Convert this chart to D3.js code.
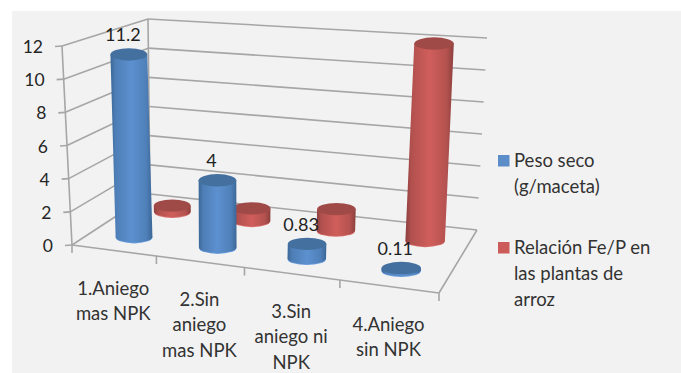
<!DOCTYPE html>
<html><head><meta charset="utf-8">
<script src="https://cdn.jsdelivr.net/npm/d3@7"></script>
<style>html,body{margin:0;padding:0;background:#fff}svg{display:block}text{font-family:Lato,"Open Sans",sans-serif}</style>
</head><body><svg id="c" width="681" height="373"></svg>
<script>
const categories = [["1.Aniego","mas NPK"],["2.Sin","aniego","mas NPK"],["3.Sin","aniego ni","NPK"],["4.Aniego","sin NPK"]];
const pesoSeco = [11.2, 4, 0.83, 0.11];
const relacionFeP = [0.35, 0.75, 1.3, 12];
const valueTicks = [0, 2, 4, 6, 8, 10, 12];
const legendNames = [["Peso seco","(g/maceta)"],["Relación Fe/P en","las plantas de","arroz"]];

const W = 681, H = 373;
const svg = d3.select("#c");
const defs = svg.append("defs");

// Box corners of the 3D plot, floor (z=0) and ceiling (z=1); front/back, left/right.
const floor = {fl:[72,245], fr:[439,293], bl:[150,194], br:[477,230]};
const ceil  = {fl:[62,46],  fr:[452,72],  bl:[148,19],  br:[487,38]};
const bil = (q,u,v,i)=>(1-v)*((1-u)*q.fl[i]+u*q.fr[i])+v*((1-u)*q.bl[i]+u*q.br[i]);
const zScale = d3.scaleLinear().domain([0,12]).range([0,1]);
const uScale = d3.scaleLinear().domain([0,1,2,3,4]).range([0,.23,.47,.73,1]);
const vRow = {blue:.27, red:.76};
function project(cat,v,val){
  const u = uScale(cat), z = zScale(val);
  return [0,1].map(i=>(1-z)*bil(floor,u,v,i)+z*bil(ceil,u,v,i));
}
const line = (a,b,col,w)=>svg.append("line").attr("x1",a[0]).attr("y1",a[1]).attr("x2",b[0]).attr("y2",b[1]).attr("stroke",col).attr("stroke-width",w||1.6);

svg.append("rect").attr("x",12).attr("y",11).attr("width",W-12).attr("height",H-11).attr("fill","#f2f2f2");

// Walls and floor outlines
const grid = "#a6a6a6";
valueTicks.forEach(t=>{
  const fl = project(0,0,t), bl = project(0,1,t), br = project(4,1,t);
  line(fl,bl,grid); line(bl,br,grid);
  line([fl[0]-7,fl[1]+0.5],fl,grid);
  svg.append("text").attr("x",fl[0]-19).attr("y",fl[1]+7).attr("text-anchor","end").attr("font-size",17.5).attr("fill","#262626").text(t);
});
line(project(0,0,0),project(0,0,12),grid);
line(project(0,1,0),project(0,1,12),grid);
line(project(0,0,0),project(4,0,0),grid);
line(project(4,0,0),project(4,1,0),grid);
d3.range(5).forEach(c=>{const p=project(c,0,0);line(p,[p[0],p[1]+8],grid);});

// Cylinder drawn as a shaded body between two ellipses plus a darker cap
function gradient(id,edge,mid){
  const g=defs.append("linearGradient").attr("id",id);
  [[0,edge],[.12,d3.interpolateRgb(edge,mid)(.55)],[.5,mid],[.85,d3.interpolateRgb(edge,mid)(.6)],[1,edge]]
    .forEach(s=>g.append("stop").attr("offset",s[0]).attr("stop-color",s[1]));
}
gradient("gBlue","#3c6797","#5c90cf");
gradient("gRed","#8b3f3d","#d05e5b");
function cylinder(cat,rowV,val,fill,cap,rim){
  const base=project(cat,rowV,0), top=project(cat,rowV,val);
  const rx=18.2+uScale(cat)*1.8, ry=6.2;
  const d=`M${top[0]-rx},${top[1]}L${base[0]-rx},${base[1]}A${rx},${ry} 0 0 0 ${base[0]+rx},${base[1]}L${top[0]+rx},${top[1]}Z`;
  svg.append("ellipse").attr("cx",base[0]).attr("cy",base[1]+0.8).attr("rx",rx).attr("ry",ry).attr("fill",rim);
  svg.append("path").attr("d",d).attr("fill",fill);
  svg.append("ellipse").attr("cx",top[0]).attr("cy",top[1]).attr("rx",rx).attr("ry",ry).attr("fill",cap);
}
categories.forEach((c,i)=>{
  cylinder(i+.53,vRow.red,relacionFeP[i],"url(#gRed)","#a04a47","#d9706d");
});
categories.forEach((c,i)=>{
  cylinder(i+.5,vRow.blue,pesoSeco[i],"url(#gBlue)","#44709f","#6b9fdc");
  const p=project(i+.5,vRow.blue,pesoSeco[i]);
  svg.append("text").attr("x",p[0]-6).attr("y",p[1]-13).attr("text-anchor","middle").attr("font-size",18).attr("fill","#1f1f1f").text(pesoSeco[i]);
});

// Category labels under the front edge
categories.forEach((c,i)=>{
  const p=project(i+.5,0,0);
  const t=svg.append("text").attr("text-anchor","middle").attr("font-size",18.5).attr("fill","#333");
  c.forEach((s,k)=>t.append("tspan").attr("x",p[0]-1).attr("y",p[1]+44+k*25.5).text(s));
});

// Legend
const legendY=[162,249], legendColors=["#5b8ec9","#cc5c5a"];
legendNames.forEach((lines,i)=>{
  svg.append("rect").attr("x",498).attr("y",legendY[i]-7).attr("width",11.5).attr("height",11.5).attr("fill",legendColors[i]);
  const t=svg.append("text").attr("font-size",18.5).attr("fill","#333");
  lines.forEach((s,k)=>t.append("tspan").attr("x",514).attr("y",legendY[i]+5+k*26).text(s));
});
</script></body></html>
